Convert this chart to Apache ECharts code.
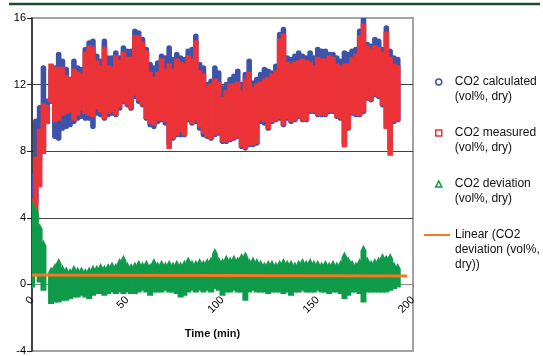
<!DOCTYPE html>
<html>
<head>
<meta charset="utf-8">
<script src="https://cdn.jsdelivr.net/npm/echarts@6/dist/echarts.min.js"></script>
<style>html,body{margin:0;padding:0;background:#fff;}#c{width:543px;height:356px;}</style>
</head>
<body>
<div id="c"></div>
<script>
// sample times (min)
var times = [0,2,4,6,8,10,12,14,16,18,20,22,24,26,28,30,32,34,36,38,40,42,44,46,48,50,52,54,56,58,60,62,64,66,68,70,72,74,76,78,80,82,84,86,88,90,92,94,96,98,100,102,104,106,108,110,112,114,116,118,120,122,124,126,128,130,132,134,136,138,140,142,144,146,148,150,152,154,156,158,160,162,164,166,168,170,172,174,176,178,180,182,184,186,188,190,192];
// CO2 calculated (vol%, dry): low / high envelope of the markers per sample
var calcHigh = [6.5,9.8,10.6,13.0,11.0,12.8,13.0,13.8,13.4,12.9,12.3,13.4,13.0,12.9,14.1,14.5,14.6,13.7,13.4,14.6,13.6,13.6,13.9,13.6,14.2,14.0,14.0,15.2,15.1,14.7,14.1,13.2,13.0,13.3,13.7,13.6,14.2,13.5,13.8,13.6,13.5,14.0,14.1,14.9,13.2,13.0,12.0,12.2,13.0,12.7,11.8,12.0,12.3,12.5,12.8,12.0,12.6,13.4,12.1,12.3,12.6,12.9,12.8,12.7,13.1,15.0,15.3,13.6,13.5,13.7,13.9,13.7,13.6,13.9,13.6,14.1,14.0,14.0,13.8,13.8,13.6,13.4,13.9,13.8,14.0,14.1,15.2,15.9,14.4,14.3,14.7,14.6,14.1,15.4,14.0,13.6,13.5];
var calcLow = [1.0,5.0,7.5,8.3,9.8,11.0,8.9,8.8,9.4,9.5,9.6,9.8,10.0,10.1,10.0,10.0,9.5,10.3,10.2,10.0,10.2,10.3,10.2,10.6,11.0,10.8,10.6,11.3,11.0,10.8,10.0,9.6,9.5,9.8,9.9,9.7,8.5,8.8,9.0,9.0,9.0,9.9,9.7,9.8,9.4,9.0,8.9,8.8,9.0,9.1,8.6,8.6,8.7,8.8,8.9,8.3,8.2,8.4,8.4,8.5,9.8,9.7,9.4,9.8,9.9,10.0,9.6,10.0,9.8,9.9,10.1,9.9,9.9,10.4,10.4,10.2,10.2,10.2,10.4,10.4,10.1,10.0,8.5,9.4,10.3,10.2,10.2,10.4,11.2,11.1,11.4,11.3,10.8,9.5,8.2,9.8,9.9];
// CO2 measured (vol%, dry)
var measHigh = [5.0,7.5,9.2,10.7,10.6,13.1,12.9,12.9,12.9,12.4,12.3,12.8,12.6,12.5,13.8,14.2,14.1,13.3,13.0,14.1,13.0,12.9,13.6,13.3,13.8,13.5,13.5,14.8,14.8,14.4,13.9,12.6,12.3,12.6,13.4,12.8,13.1,12.8,13.4,13.2,13.1,13.6,13.4,14.5,12.7,12.5,11.8,11.9,12.2,12.0,11.1,11.5,11.9,11.9,12.0,11.5,12.2,12.6,11.7,11.9,12.0,12.2,12.3,12.5,12.7,14.6,14.9,13.2,13.1,13.2,13.3,13.4,13.3,13.2,13.0,13.5,13.4,13.4,13.6,13.5,13.1,13.0,13.1,13.1,13.5,13.7,14.8,15.5,14.2,14.0,14.2,14.1,13.8,15.0,13.5,13.1,13.0];
var measLow = [0.3,3.0,6.0,8.0,9.8,11.1,9.9,10.0,10.3,10.4,10.5,10.0,10.3,10.6,10.4,10.3,10.2,10.7,10.5,10.1,10.4,10.5,10.3,10.8,11.1,10.9,10.7,11.5,11.2,10.9,10.1,9.8,9.7,10.0,10.0,9.9,8.3,8.9,9.1,9.3,9.1,10.0,9.8,10.0,9.6,9.2,9.0,8.9,9.1,9.2,8.7,8.7,8.8,8.9,9.0,8.4,8.3,8.5,8.5,8.6,10.0,9.9,9.5,9.9,10.0,10.1,9.7,10.1,9.9,10.0,10.2,10.0,10.0,10.5,10.5,10.3,10.3,10.3,10.5,10.5,10.2,10.1,8.4,9.5,10.4,10.3,10.3,10.5,11.3,11.2,11.5,11.4,10.9,9.5,7.9,9.9,10.0];
// CO2 deviation (vol%, dry)
var devHigh = [4.9,4.5,3.5,2.5,null,0.9,1.1,1.4,1.0,0.9,0.8,1.0,0.9,0.9,0.8,0.9,1.0,1.0,1.1,1.0,1.1,1.2,1.1,1.4,1.6,1.2,1.1,1.2,1.3,1.2,1.3,1.1,1.4,1.2,1.3,1.2,1.3,1.2,1.3,1.2,1.3,1.5,1.3,1.3,1.4,1.3,1.4,1.5,2.0,1.5,1.4,1.6,1.5,1.6,1.5,1.7,1.8,1.4,1.5,1.4,1.3,1.2,1.3,1.3,1.2,1.3,1.4,1.3,1.3,1.2,1.3,1.4,1.3,1.4,1.3,1.3,1.2,1.3,1.2,1.3,1.2,1.3,1.8,1.5,1.3,1.2,1.4,2.2,1.5,1.3,1.4,1.5,1.7,1.6,1.7,1.2,1.1];
var devLow = [0.0,0.8,0.3,-0.2,null,-1.0,-0.9,-0.9,-0.8,-0.8,-0.7,-0.6,-0.6,-0.5,-0.6,-0.7,-0.5,-0.4,-0.4,-0.5,-0.4,-0.3,-0.4,-0.3,-0.4,-0.3,-0.4,-0.4,-0.3,-0.2,-0.3,-0.5,-0.3,-0.3,-0.3,-0.2,-0.3,-0.3,-0.4,-0.6,-0.5,-0.3,-0.2,-0.3,-0.2,-0.3,-0.2,-0.3,-0.1,-0.2,-0.5,-0.3,-0.3,-0.2,-0.3,-0.3,-0.8,-0.3,-0.2,-0.3,-0.3,-0.3,-0.4,-0.3,-0.3,-0.3,-0.4,-0.3,-0.5,-0.3,-0.3,-0.2,-0.3,-0.3,-0.3,-0.2,-0.3,-0.3,-0.4,-0.3,-0.3,-0.4,-0.7,-0.5,-0.3,-0.3,-0.4,-0.9,-0.3,-0.3,-0.3,-0.3,-0.3,-0.3,-0.2,-0.1,0.0];
// Linear trend of deviation
var trendX = [0, 197];
var trendY = [0.56, 0.50];

var BLUE = '#3d53aa', RED = '#ec3338', GREEN = '#0f9b4a', ORANGE = '#f37a22';
var N1 = 'CO2 calculated\n(vol%, dry)', N2 = 'CO2 measured\n(vol%, dry)', N3 = 'CO2 deviation\n(vol%, dry)', N4 = 'Linear (CO2\ndeviation (vol%,\ndry))';

function zip(lo, hi) {
  return times.map(function (t, i) { return [t, lo[i] == null ? NaN : lo[i], hi[i] == null ? NaN : hi[i]]; });
}
function colRender(color, r) {
  return function (params, api) {
    var t = api.value(0), lo = api.value(1), hi = api.value(2);
    if (isNaN(lo) || isNaN(hi)) return;
    var a = api.coord([t, hi]), b = api.coord([t, lo]);
    var w = 5.6, h = 2.8;
    return { type: 'rect', shape: { x: a[0] - w / 2, y: a[1] - h, width: w, height: b[1] - a[1] + 2 * h, r: r }, style: { fill: color } };
  };
}
function triRender(color) {
  return function (params, api) {
    var t = api.value(0), lo = api.value(1), hi = api.value(2);
    if (isNaN(lo) || isNaN(hi)) return;
    var a = api.coord([t, hi]), b = api.coord([t, lo]);
    var x = a[0], s = 3;
    return { type: 'polygon', shape: { points: [[x - s, b[1] + s], [x - s, a[1] + s], [x, a[1] - s], [x + s, a[1] + s], [x + s, b[1] + s]] }, style: { fill: color } };
  };
}

var chart = echarts.init(document.getElementById('c'), null, { renderer: 'canvas' });
var gridTop = 18, gridBottom = 5, H = 356;
var plotH = H - gridTop - gridBottom;
var yMin = -4, yMax = 16;
var zeroOffset = -plotH * (0 - yMin) / (yMax - yMin);
chart.setOption({
  animation: false,
  backgroundColor: '#fff',
  textStyle: { fontFamily: 'Liberation Sans, Arial, sans-serif' },
  grid: { left: 32, right: 130, top: gridTop, bottom: gridBottom, show: true, borderColor: '#a3a3a3', borderWidth: 2, backgroundColor: 'transparent', containLabel: false, outerBoundsMode: 'none' },
  graphic: [{ type: 'line', shape: { x1: 9, y1: 4, x2: 540, y2: 4 }, style: { stroke: '#1d4b2b', lineWidth: 2.5 }, z: 10 }],
  legend: [{
    orient: 'vertical', left: 435, top: 59.5, padding: 0, itemWidth: 6, itemHeight: 6, itemGap: 6,
    formatter: function (n) { return '\n' + n; },
    textStyle: { fontSize: 12, lineHeight: 15, color: '#111', padding: [0, 0, 0, 8] },
    data: [
      { name: N1, icon: 'circle', itemStyle: { color: '#fff', borderColor: BLUE, borderWidth: 1.5 } },
      { name: N2, icon: 'rect', itemStyle: { color: '#fff', borderColor: RED, borderWidth: 1.5 } },
      { name: N3, icon: 'triangle', itemStyle: { color: '#fff', borderColor: GREEN, borderWidth: 1.5 } }
    ]
  }, {
    orient: 'vertical', left: 423, top: 197.5, padding: 0, itemWidth: 26, itemHeight: 3,
    formatter: function (n) { return '\n\n' + n; },
    textStyle: { fontSize: 12, lineHeight: 15, color: '#111' },
    data: [{ name: N4 }]
  }],
  xAxis: {
    type: 'value', min: 0, max: 200, interval: 50, position: 'bottom', offset: zeroOffset,
    axisLine: { show: true, onZero: false, lineStyle: { color: '#8c8c8c', width: 1 } },
    axisTick: { show: true, length: 4, lineStyle: { color: '#8c8c8c' } },
    axisLabel: { rotate: 45, fontSize: 11, color: '#000', margin: 14 },
    splitLine: { show: false },
    name: 'Time (min)', nameLocation: 'middle', nameGap: 44,
    nameTextStyle: { fontWeight: 'bold', fontSize: 11, color: '#111', padding: [0, 20, 0, 0] }
  },
  yAxis: {
    type: 'value', min: yMin, max: yMax, interval: 4,
    axisLine: { show: true, onZero: false, lineStyle: { color: '#222', width: 1.5 } },
    axisTick: { show: true, length: 5, lineStyle: { color: '#222' } },
    axisLabel: { fontSize: 11, color: '#000', margin: 6 },
    splitLine: { show: true, showMinLine: false, showMaxLine: false, lineStyle: { color: '#444', width: 1 } }
  },
  series: [
    { name: N1, type: 'custom', renderItem: colRender(BLUE, 2.8), data: zip(calcLow, calcHigh), encode: { x: 0, y: [1, 2] }, itemStyle: { color: BLUE }, clip: true, z: 2 },
    { name: N2, type: 'custom', renderItem: colRender(RED, 0.5), data: zip(measLow, measHigh), encode: { x: 0, y: [1, 2] }, itemStyle: { color: RED }, clip: true, z: 3 },
    { name: N3, type: 'custom', renderItem: triRender(GREEN), data: zip(devLow, devHigh), encode: { x: 0, y: [1, 2] }, itemStyle: { color: GREEN }, clip: true, z: 4 },
    { name: N4, type: 'line', data: trendX.map(function (x, i) { return [x, trendY[i]]; }), symbol: 'none', lineStyle: { color: ORANGE, width: 3 }, itemStyle: { color: ORANGE }, z: 5 }
  ]
});
</script>
</body>
</html>
